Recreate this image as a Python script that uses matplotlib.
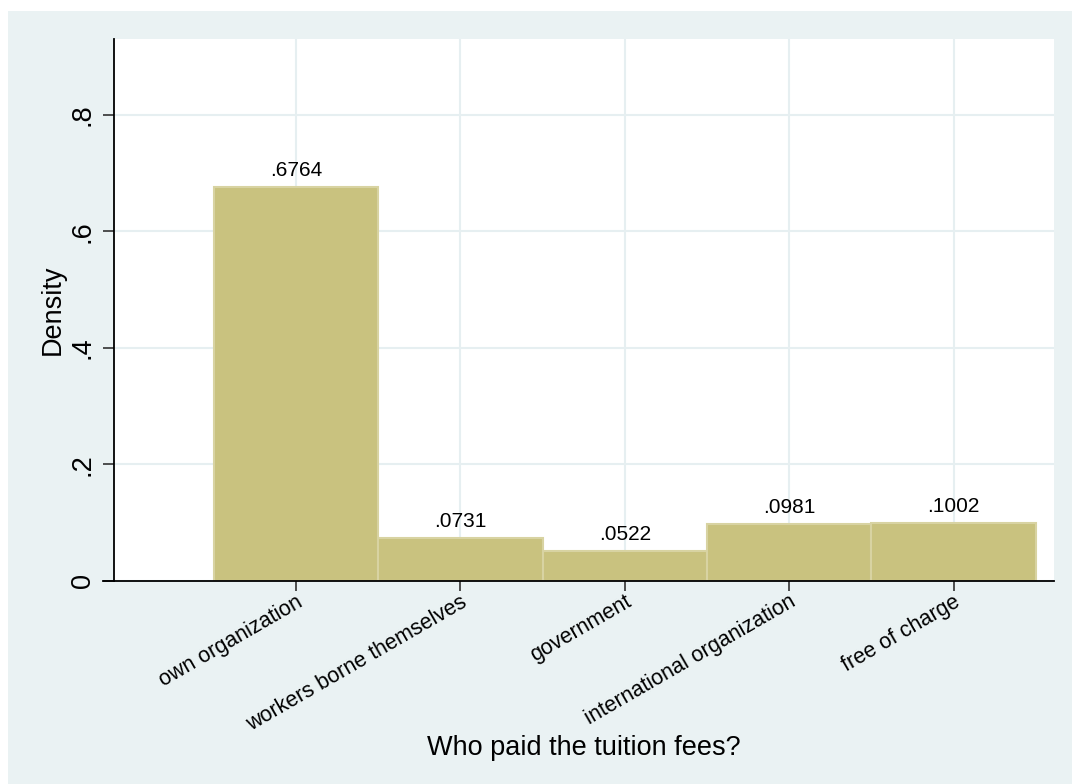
import numpy as np
import matplotlib
matplotlib.use('Agg')
import matplotlib.pyplot as plt
from matplotlib.patches import Rectangle

categories = ['own organization', 'workers borne themselves', 'government',
              'international organization', 'free of charge']
density = [0.6764, 0.0731, 0.0522, 0.0981, 0.1002]
yticks = [0, 0.2, 0.4, 0.6, 0.8]
ytick_labels = ['0', '.2', '.4', '.6', '.8']

plt.rcParams['font.family'] = ['Liberation Sans', 'DejaVu Sans']

bg = '#EAF2F3'
fig = plt.figure(figsize=(10.72, 7.84), dpi=100, facecolor='white')
fig.patches.append(Rectangle((8 / 1072, 0), 1, 1 - 11 / 784, transform=fig.transFigure,
                             facecolor=bg, edgecolor='none', zorder=-10))
ax = fig.add_axes([114 / 1072, 1 - 581 / 784, (1054 - 114) / 1072, (581 - 39) / 784])
ax.set_facecolor('white')

x = np.arange(1, len(categories) + 1)
bars = ax.bar(x, density, width=1.0, color='#C9C27F', edgecolor='#D8D3A2',
              linewidth=1.5, zorder=3)

for xi, v in zip(x, density):
    ax.annotate(f'{v:.4f}'.lstrip('0'), (xi, v), xytext=(0, 5), textcoords='offset points',
                ha='center', va='bottom', fontsize=15, color='black')

ax.set_xlim(-0.106, 5.61)
ax.set_ylim(0, 0.93)
ax.set_yticks(yticks)
ax.set_yticklabels(ytick_labels, rotation=90, va='center', fontsize=19.5)
ax.set_xticks(x)
ax.set_xticklabels(categories, rotation=30, ha='right', rotation_mode='anchor', fontsize=15.5)

ax.grid(True, color='#E6EFF1', linewidth=1.5, zorder=0)
ax.set_axisbelow(True)
for s in ['top', 'right']:
    ax.spines[s].set_visible(False)
for s in ['left', 'bottom']:
    ax.spines[s].set_color('black')
    ax.spines[s].set_linewidth(1.3)
    ax.spines[s].set_zorder(4)
ax.plot([-0.012, 0], [0, 0], transform=ax.transAxes, clip_on=False,
        color='black', linewidth=1.3)

ax.tick_params(axis='y', length=8, width=1.3, color='#404040', pad=5)
ax.tick_params(axis='x', length=7.5, width=1.3, color='#404040', pad=0)

ax.set_ylabel('Density', fontsize=19.5, labelpad=3)
ax.set_xlabel('Who paid the tuition fees?', fontsize=19.5, labelpad=0)

fig.savefig('out.png', dpi=100, facecolor=fig.get_facecolor())
